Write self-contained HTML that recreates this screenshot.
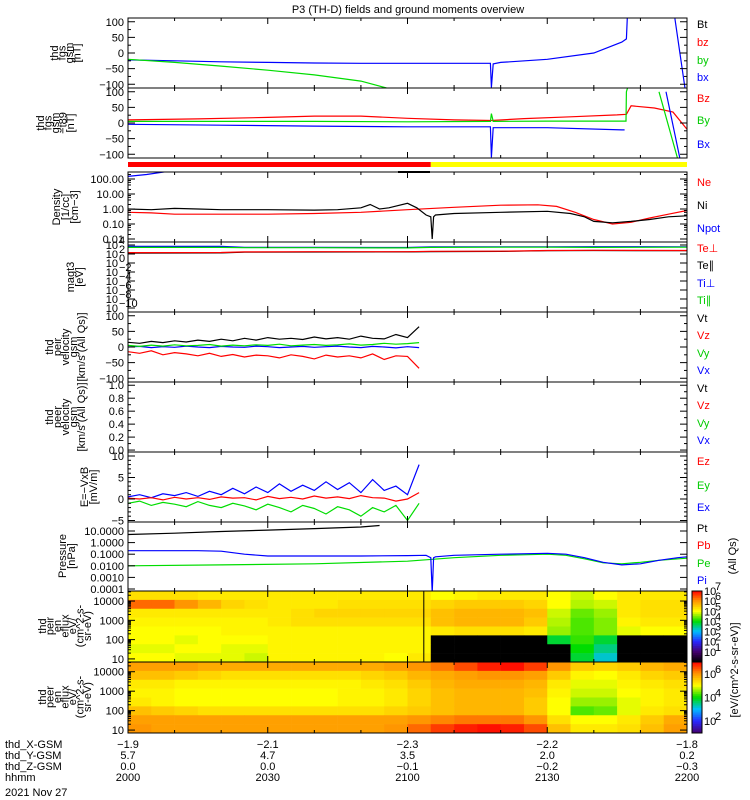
<!DOCTYPE html>
<html><head><meta charset="utf-8">
<style>
html,body{margin:0;padding:0;background:#fff;}
svg{display:block;font-family:"Liberation Sans",sans-serif;}
text{font-size:11px;}
</style></head>
<body>
<svg id="chart" width="750" height="800" viewBox="0 0 750 800" xmlns="http://www.w3.org/2000/svg">
<rect x="0" y="0" width="750" height="800" fill="#fff"/>
<text x="408" y="13" text-anchor="middle" font-size="12">P3 (TH-D) fields and ground moments overview</text>
<g id="layer"></g>
</svg>
<script>
// ---- data (time in minutes after 20:00) ----
const xTickLabels = ["2000","2030","2100","2130","2200"];
const xTickTimes = [0,30,60,90,120];
const xGsm = ["-1.9","-2.1","-2.3","-2.2","-1.8"];
const yGsm = ["5.7","4.7","3.5","2.0","0.2"];
const zGsm = ["0.0","0.0","-0.1","-0.2","-0.3"];

const bxT=[0,10,20,30,40,50,60,70,77.8,78,78.4,80,90,100,106,107,107.2,null,117.4,119.6];
const bxV=[-22,-25,-28,-30,-32,-33,-33,-33,-33,-110,-35,-30,-20,0,35,45,120,null,110,-115];
const byT=[0,10,20,30,40,50,55.5];
const byV=[-20,-30,-42,-55,-70,-90,-112];

const bz2T=[0,15,30,40,50,60,70,78,85,95,105,107,108,113,117,120];
const bz2V=[10,13,18,22,22,15,10,8,14,20,26,28,55,48,35,-20];
const by2T=[0,20,40,60,77.8,78,78.4,90,106.9,107,107.3,null,114,118];
const by2V=[5,5,5,4,5,30,5,6,6,100,115,null,100,-115];
const bx2T=[0,20,40,60,77.8,78,78.4,90,106,106.6,null,115.5,118.5];
const bx2V=[-4,-7,-10,-12,-12,-110,-15,-15,-22,-22,null,100,-115];

const niT=[0,5,10,15,20,30,40,45,50,52,54,56,60,62,64,65,65.3,65.6,66,70,80,90,95,98,100,104,108,112,116,120];
const niV=[1.0,0.9,1.1,1.0,0.9,0.9,0.85,0.9,1.2,2.0,1.0,1.2,2.4,1.2,0.4,0.3,0.01,0.3,0.4,0.5,0.6,0.7,0.5,0.3,0.15,0.12,0.15,0.2,0.3,0.35];
const neT=[0,5,10,20,30,40,50,60,70,80,88,92,96,100,104,108,112,116,120];
const neV=[0.6,0.55,0.45,0.45,0.45,0.5,0.6,0.9,1.3,1.8,1.9,1.5,0.6,0.2,0.1,0.13,0.25,0.45,0.8];
const npT=[0,4,8];
const npV=[150,200,300];

const tmT=[0,20,25,40,60,65,80,90,100,120];
const tePerp=[200,220,300,320,330,400,420,600,650,600];
const tePar=[160,180,250,280,300,350,380,550,600,550];
const tiPerp=[5000,5000,3000,3000,2800,4000,4000,4000,4200,4000];
const tiPar=[3000,3000,2500,2500,2300,3000,3200,3300,3000,3200];

const vT=[0,2.5,5,7.5,10,12.5,15,17.5,20,22.5,25,27.5,30,32.5,35,37.5,40,42.5,45,47.5,50,52.5,55,57.5,60,62.5];
const vtV=[15,12,18,14,20,16,22,18,25,20,28,22,30,25,28,24,32,26,30,25,35,28,26,40,30,65];
const vzV=[-15,-20,-12,-25,-18,-22,-28,-20,-30,-24,-32,-26,-28,-35,-25,-30,-38,-26,-32,-28,-35,-22,-40,-28,-30,-68];
const vyV=[5,2,6,3,7,4,5,8,3,6,4,7,5,9,4,6,8,5,7,10,6,8,12,9,11,14];
const vxV=[0,2,-2,1,-1,3,0,-2,2,0,-1,3,1,-2,0,2,-1,1,3,0,-2,2,0,-3,1,-2];

const exV=[0.5,1,0.3,1.2,0.8,1.5,0.6,1.8,1,2.5,1.2,2.8,1.5,3.5,1.8,3.2,2,4,2.2,3.8,1.5,4.5,2,3,1,8];
const eyV=[-1,-0.5,-1.5,-0.8,-1.2,-1.8,-0.6,-1.5,-2,-1,-1.6,-2.5,-1.2,-2,-3,-1.5,-2.2,-3.5,-1.8,-2.5,-4,-2,-3,-1.5,-5,-1];
const ezV=[0.2,0,0.3,-0.2,0.4,0,0.3,-0.1,0.5,0.2,0.3,-0.2,0.6,0.1,0.4,0,0.7,0.2,0.5,0.1,0.8,0.3,0.2,-0.5,0,1.5];

const ptT=[0,10,20,30,40,50,54];
const ptV=[5,6.5,9,12,16,22,30];
const piT=[0,15,20,25,30,40,50,60,64,65,65.3,65.6,66,70,80,90,94,98,102,106,110,114,118,120];
const piV=[0.2,0.2,0.18,0.1,0.07,0.07,0.07,0.075,0.08,0.05,0.00005,0.05,0.06,0.08,0.1,0.12,0.1,0.05,0.02,0.012,0.015,0.03,0.05,0.06];
const peT=[0,20,40,60,70,80,90,94,98,102,106,110,114,120];
const peV=[0.01,0.012,0.015,0.025,0.05,0.08,0.1,0.08,0.04,0.018,0.015,0.02,0.03,0.045];

const modeSwitchTime = 65;

// spectrogram log-flux grids: rows = energy bins (high -> low), cols = 5-min time bins
const spec1 = [
[5.3,5.3,5.3,5.2,5.2,5.2,5.2,5.2,5.2,5.2,5.2,5.2,5.2,5.0,5.1,5.2,5.2,5.2,5.0,4.8,5.0,5.2,5.2,5.2],
[6.3,6.3,6.0,5.7,5.4,5.3,5.2,5.2,5.2,5.3,5.3,5.3,5.3,5.4,5.5,5.5,5.5,5.4,5.0,4.7,4.8,5.2,5.3,5.3],
[5.2,5.2,5.2,5.2,5.2,5.2,5.2,5.3,5.4,5.4,5.4,5.4,5.4,5.6,5.7,5.7,5.7,5.6,4.8,4.4,4.6,5.2,5.3,5.3],
[5.1,5.1,5.1,5.1,5.1,5.1,5.2,5.3,5.3,5.3,5.3,5.3,5.3,5.6,5.7,5.7,5.7,5.5,4.7,4.3,4.5,5.1,5.2,5.2],
[5.0,5.0,5.0,5.0,5.1,5.1,5.1,5.1,5.1,5.1,5.1,5.1,5.1,5.2,5.3,5.3,5.3,5.2,4.6,4.3,4.5,4.9,5.0,5.0],
[5.0,5.0,4.9,5.0,5.0,5.0,5.1,5.1,5.1,5.1,5.1,5.1,5.1,0,0,0,0,0,3.8,4.2,3.8,0,0,0],
[4.9,4.9,5.0,5.0,4.9,4.9,5.1,5.1,5.1,5.1,5.1,5.1,5.1,0,0,0,0,0,0,4.0,3.5,0,0,0],
[5.0,5.0,4.9,4.9,4.9,4.8,5.1,5.1,5.1,5.1,5.1,5.0,5.2,0,0,0,0,0,0,3.8,3.2,0,0,0]];
const spec2 = [
[5.9,5.9,5.9,5.8,5.8,5.8,5.8,5.8,5.8,5.8,5.8,5.9,6.0,6.2,6.5,6.8,6.9,6.6,6.0,5.5,5.4,5.5,5.7,5.8],
[5.6,5.6,5.5,5.4,5.3,5.3,5.3,5.3,5.3,5.3,5.4,5.5,5.7,5.8,5.9,6.0,6.0,5.9,5.5,5.1,5.0,5.2,5.4,5.5],
[5.2,5.2,5.1,5.1,5.1,5.1,5.1,5.1,5.1,5.1,5.2,5.3,5.5,5.7,5.8,5.8,5.8,5.7,5.2,4.9,4.9,5.1,5.2,5.3],
[5.1,5.1,5.0,5.0,5.0,5.0,5.0,5.0,5.0,5.1,5.1,5.2,5.4,5.6,5.7,5.7,5.7,5.6,5.1,4.8,4.8,5.0,5.1,5.2],
[5.2,5.1,5.0,5.0,5.0,5.0,5.0,5.0,5.0,5.1,5.1,5.2,5.4,5.6,5.7,5.7,5.7,5.5,5.0,4.6,4.6,4.9,5.1,5.2],
[5.6,5.5,5.4,5.3,5.3,5.3,5.3,5.3,5.3,5.3,5.3,5.4,5.5,5.6,5.7,5.7,5.7,5.5,5.0,4.3,4.4,4.9,5.2,5.3],
[5.9,5.9,5.9,5.9,5.9,5.9,5.9,5.9,5.9,5.9,5.9,5.9,6.0,6.1,6.2,6.2,6.2,6.0,5.3,5.0,5.0,5.2,5.5,5.8],
[6.0,5.9,5.9,5.9,5.9,5.9,5.9,5.9,5.9,5.9,5.9,6.0,6.3,6.6,6.8,6.9,6.8,6.5,5.6,5.2,5.2,5.3,5.6,5.9]];

// ---- layout ----
const NS="http://www.w3.org/2000/svg";
const L=document.getElementById('layer');
const X0=128, X1=687, TMAX=120;
const xs=t=>X0+(t/TMAX)*(X1-X0);
function el(tag,attrs,parent){const e=document.createElementNS(NS,tag);for(const k in attrs)e.setAttribute(k,attrs[k]);(parent||L).appendChild(e);return e;}
function linScale(d0,d1,y0,y1){return v=>y0+(v-d0)/(d1-d0)*(y1-y0);}
function logScale(v0,yv0,pxDec){return v=>yv0-(Math.log10(v)-Math.log10(v0))*pxDec;}

function clipFor(name,y0,y1){
  const c=el('clipPath',{id:'c-'+name});
  el('rect',{x:X0,y:y0,width:X1-X0,height:y1-y0},c);
  return 'url(#c-'+name+')';
}
function series(name,ts,vs,ys,color,clip){
  let d='',pen=false;
  for(let i=0;i<ts.length;i++){
    if(ts[i]===null||vs[i]===null){pen=false;continue;}
    d+=(pen?'L':'M')+xs(ts[i]).toFixed(1)+','+ys(vs[i]).toFixed(1);pen=true;
  }
  const p=el('path',{d:d,fill:'none',stroke:color,'stroke-width':1.2,'clip-path':clip});
  
  
}
function frame(name,y0,y1){
  const r=el('rect',{x:X0,y:y0,width:X1-X0,height:y1-y0,fill:'none',stroke:'#000','stroke-width':1});
  
  
  for(let t=0;t<=TMAX;t+=10){
    const len=(t%30===0)?6:3;
    el('line',{x1:xs(t),x2:xs(t),y1:y0,y2:y0+len,stroke:'#000'});
    el('line',{x1:xs(t),x2:xs(t),y1:y1,y2:y1-len,stroke:'#000'});
  }
}
function ytick(y,label,major){
  const len=major?7:3;
  el('line',{x1:X0,x2:X0+len,y1:y,y2:y,stroke:'#000'});
  el('line',{x1:X1,x2:X1-len,y1:y,y2:y,stroke:'#000'});
  if(label!==null&&label!==undefined){
    const t=el('text',{x:124,y:y+4,'text-anchor':'end','font-size':12});
    t.textContent=label;
    
    
  }
}
function ytickPow(y,exp){
  el('line',{x1:X0,x2:X0+7,y1:y,y2:y,stroke:'#000'});
  el('line',{x1:X1,x2:X1-7,y1:y,y2:y,stroke:'#000'});
  const t=el('text',{x:118,y:y+4,'text-anchor':'end','font-size':11});
  t.textContent='10';
  
  
  const s=el('text',{x:119,y:y-1,'font-size':8});
  s.textContent=exp;
}
function vtitle(name,lines,x,yc,step,size){
  const g=el('g',{});
  
  
  lines.forEach((ln,i)=>{
    const t=el('text',{x:0,y:0,'text-anchor':'middle','font-size':size||12,transform:`translate(${x+i*step},${yc}) rotate(-90)`},g);
    t.textContent=ln;
  });
}
function legend(name,label,y,color){
  const t=el('text',{x:697,y:y+4,fill:color,'font-size':11});
  t.textContent=label;
  
  
}

// Panel 1: FGS GSM
{const y0=18,y1=88,ys=linScale(112,-112,y0,y1),c=clipFor('p1',y0,y1);
 series('bx-line',bxT,bxV,ys,'#0000ff',c);series('by-line',byT,byV,ys,'#00dd00',c);
 frame('fgs-gsm-panel',y0,y1);
 [100,50,0,-50,-100].forEach(v=>ytick(ys(v),String(v).replace('-','−'),true));
 [75,25,-25,-75].forEach(v=>ytick(ys(v),null,false));
 vtitle('fgs-gsm-axis-title',['thd','fgs','gsm','[nT]'],58,53,7.5,11);
 legend('legend-bt','Bt',24,'#000');legend('legend-bz','bz',42,'#ff0000');legend('legend-by','by',60,'#00cc00');legend('legend-bx','bx',77,'#0000ff');}

// Panel 2: FGS GSM-T89
{const y0=88,y1=158,ys=linScale(112,-112,y0,y1),c=clipFor('p2',y0,y1);
 series('bz-t89-line',bz2T,bz2V,ys,'#ff0000',c);series('by-t89-line',by2T,by2V,ys,'#00dd00',c);series('bx-t89-line',bx2T,bx2V,ys,'#0000ff',c);
 frame('fgs-t89-panel',y0,y1);
 [100,50,0,-50,-100].forEach(v=>ytick(ys(v),String(v).replace('-','−'),true));
 [75,25,-25,-75].forEach(v=>ytick(ys(v),null,false));
 vtitle('fgs-t89-axis-title',['thd','fgs','gsm','−t89','[nT]'],44,123,7.5,11);
 legend('legend-bz-t89','Bz',98,'#ff0000');legend('legend-by-t89','By',120,'#00cc00');legend('legend-bx-t89','Bx',144,'#0000ff');}

// mode bar
{el('line',{x1:X0,x2:X1,y1:158,y2:158,stroke:'#000'});
 const r=el('rect',{x:X0,y:162,width:xs(modeSwitchTime)-X0,height:5,fill:'#ff0000'});
 
 
 const r2=el('rect',{x:xs(modeSwitchTime),y:162,width:X1-xs(modeSwitchTime),height:5,fill:'#ffff00'});
 
 
 el('rect',{x:398,y:171,width:32,height:2,fill:'#000'});}

// Panel 3: Density
{const y0=172,y1=242,ys=logScale(100,179,15),c=clipFor('p3',y0,y1);
 series('npot-line',npT,npV,ys,'#0000ff',c);series('ne-line',neT,neV,ys,'#ff0000',c);series('ni-line',niT,niV,ys,'#000',c);
 frame('density-panel',y0,y1);
 [['100.00',100],['10.00',10],['1.00',1],['0.10',0.1],['0.01',0.01]].forEach(a=>ytick(ys(a[1]),a[0],true));
 for(let d=-2;d<3;d++)for(let m=2;m<10;m+=2){const y=ys(m*Math.pow(10,d));if(y>y0&&y<y1)ytick(y,null,false);}
 vtitle('density-axis-title',['Density','[1/cc]','[cm−3]'],60,207,9,11);
 legend('legend-ne','Ne',182,'#ff0000');legend('legend-ni','Ni',205,'#000');legend('legend-npot','Npot',228,'#0000ff');}

// Panel 4: Temperature
{const y0=242,y1=312,ys=logScale(1,263,4.5),c=clipFor('p4',y0,y1);
 series('ti-perp-line',tmT,tiPerp,ys,'#0000ff',c);series('ti-par-line',tmT,tiPar,ys,'#00dd00',c);
 series('te-par-line',tmT,tePar,ys,'#000',c);series('te-perp-line',tmT,tePerp,ys,'#ff0000',c);
 frame('temperature-panel',y0,y1);
 [4,2,0,-2,-4,-6,-8,-10].forEach(e=>ytickPow(ys(Math.pow(10,e)),String(e).replace('-','−')));
 vtitle('temperature-axis-title',['magt3','[eV]'],74,277,9,11);
 legend('legend-te-perp','Te⊥',248,'#ff0000');legend('legend-te-par','Te∥',265,'#000');legend('legend-ti-perp','Ti⊥',283,'#0000ff');legend('legend-ti-par','Ti∥',300,'#00cc00');}

// Panel 5: ion velocity
{const y0=312,y1=382,ys=linScale(112,-112,y0,y1),c=clipFor('p5',y0,y1);
 series('vx-ion-line',vT,vxV,ys,'#0000ff',c);series('vy-ion-line',vT,vyV,ys,'#00dd00',c);series('vz-ion-line',vT,vzV,ys,'#ff0000',c);series('vt-ion-line',vT,vtV,ys,'#000',c);
 frame('ion-velocity-panel',y0,y1);
 [100,50,0,-50,-100].forEach(v=>ytick(ys(v),String(v).replace('-','−'),true));
 [75,25,-25,-75].forEach(v=>ytick(ys(v),null,false));
 vtitle('ion-velocity-axis-title',['thd','peir','velocity','gsm','[km/s (All Qs)]'],53,347,8,11);
 legend('legend-vt-ion','Vt',318,'#000');legend('legend-vz-ion','Vz',335,'#ff0000');legend('legend-vy-ion','Vy',353,'#00cc00');legend('legend-vx-ion','Vx',370,'#0000ff');}

// Panel 6: electron velocity (empty)
{const y0=382,y1=452,ys=linScale(1.05,-0.03,y0,y1);
 frame('electron-velocity-panel',y0,y1);
 [0,0.2,0.4,0.6,0.8,1.0].forEach(v=>ytick(ys(v),v.toFixed(1),true));
 [0.1,0.3,0.5,0.7,0.9].forEach(v=>ytick(ys(v),null,false));
 vtitle('electron-velocity-axis-title',['thd','peer','velocity','gsm','[km/s (All Qs)]'],53,417,8,11);
 legend('legend-vt-el','Vt',388,'#000');legend('legend-vz-el','Vz',405,'#ff0000');legend('legend-vy-el','Vy',423,'#00cc00');legend('legend-vx-el','Vx',440,'#0000ff');}

// Panel 7: E = -VxB
{const y0=452,y1=522,ys=linScale(10,0,456,499),c=clipFor('p7',y0,y1);
 series('ey-line',vT,eyV,ys,'#00dd00',c);series('ex-line',vT,exV,ys,'#0000ff',c);series('ez-line',vT,ezV,ys,'#ff0000',c);
 frame('efield-panel',y0,y1);
 [10,5,0,-5].forEach(v=>ytick(ys(v),String(v).replace('-','−'),true));
 [9,8,7,6,4,3,2,1,-1,-2,-3,-4].forEach(v=>ytick(ys(v),null,false));
 vtitle('efield-axis-title',['E=−VxB','[mV/m]'],88,487,9,11);
 legend('legend-ez','Ez',461,'#ff0000');legend('legend-ey','Ey',485,'#00cc00');legend('legend-ex','Ex',507,'#0000ff');}

// Panel 8: Pressure
{const y0=522,y1=591,ys=logScale(10,531,11.6),c=clipFor('p8',y0,y1);
 series('pe-line',peT,peV,ys,'#00dd00',c);series('pi-line',piT,piV,ys,'#0000ff',c);series('pt-line',ptT,ptV,ys,'#000',c);
 frame('pressure-panel',y0,y1);
 [['10.0000',10],['1.0000',1],['0.1000',0.1],['0.0100',0.01],['0.0010',0.001],['0.0001',0.0001]].forEach(a=>ytick(ys(a[1]),a[0],true));
 vtitle('pressure-axis-title',['Pressure','[nPa]'],66,556,9,11);
 legend('legend-pt','Pt',528,'#000');legend('legend-pb','Pb',545,'#ff0000');legend('legend-pe','Pe',563,'#00cc00');legend('legend-pi','Pi',580,'#0000ff');
 const t=el('text',{x:0,y:0,'font-size':11,'text-anchor':'middle',transform:'translate(736,556) rotate(-90)'});t.textContent='(All Qs)';}

// colormap
const cstops=[[0,[0,0,0]],[1,[70,0,110]],[2,[40,40,255]],[3,[0,190,255]],[4,[0,220,0]],[5,[255,255,0]],[6,[255,150,0]],[7,[255,0,0]]];
function cmap(v){
  if(v<=0)return 'rgb(0,0,0)';
  if(v>=7)return 'rgb(255,0,0)';
  for(let i=0;i<cstops.length-1;i++){const a=cstops[i],b=cstops[i+1];
    if(v>=a[0]&&v<=b[0]){const f=(v-a[0])/(b[0]-a[0]);const c=a[1].map((x,k)=>Math.round(x+(b[1][k]-x)*f));return `rgb(${c})`;}}
}
function spectro(name,grid,y0,y1,eTop,eBot){
  const nE=grid.length,nT=grid[0].length;
  const ys=v=>y0+(eTop-v)/(eTop-eBot)*(y1-y0); // v = log10 energy
  const eStep=(eTop-eBot)/nE, tStep=TMAX/nT;
  for(let r=0;r<nE;r++)for(let k=0;k<nT;k++){
    const xa=xs(k*tStep),xb=xs((k+1)*tStep);
    const ya=ys(eTop-r*eStep),yb=ys(eTop-(r+1)*eStep);
    const cell=el('rect',{x:xa.toFixed(2),y:ya.toFixed(2),width:(xb-xa+0.3).toFixed(2),height:(yb-ya+0.3).toFixed(2),fill:cmap(grid[r][k])});
    
    
  }
  frame(name,y0,y1);
  [[10000,'10000'],[1000,'1000'],[100,'100'],[10,'10']].forEach(a=>ytick(ys(Math.log10(a[0])),a[1],true));
  for(let d=1;d<5;d++)for(let m=2;m<10;m++){const lv=d+Math.log10(m);if(lv<eTop&&lv>eBot)ytick(ys(lv),null,false);}
}
spectro('ion-energy-spectrogram',spec1,591,662,4.52,0.84);
el('line',{x1:xs(63.5),x2:xs(63.5),y1:591,y2:662,stroke:'#000'});
spectro('electron-energy-spectrogram',spec2,662,733,4.5,0.85);
vtitle('ion-spec-axis-title',['thd','peir','en','eflux','eV/','(cm^2-s-','sr-eV)'],46,626,7.5,11);
vtitle('electron-spec-axis-title',['thd','peer','en','eflux','eV/','(cm^2-s-','sr-eV)'],46,697,7.5,11);

// colorbars
function colorbar(name,y0,y1,vmin,vmax,labels){
  const g=el('g',{});
  
  
  const n=40;
  for(let i=0;i<n;i++){const v=vmax-(i+0.5)/n*(vmax-vmin);
    el('rect',{x:692,y:y0+i*(y1-y0)/n,width:10,height:(y1-y0)/n+0.5,fill:cmap(v)},g);}
  el('rect',{x:692,y:y0,width:10,height:y1-y0,fill:'none',stroke:'#000'},g);
  labels.forEach(e=>{const y=y0+(vmax-e)/(vmax-vmin)*(y1-y0);
    const t=el('text',{x:704,y:y+4,'font-size':10},g);t.textContent='10';
    const s=el('text',{x:715,y:y-1,'font-size':7},g);s.textContent=String(e);});
}
colorbar('ion-colorbar',591,662,0,7,[7,6,5,4,3,2,1]);
colorbar('electron-colorbar',662,733,1,7,[6,4,2]);
{const t=el('text',{x:0,y:0,'font-size':12,'text-anchor':'middle',transform:'translate(738,670) rotate(-90)'});
 t.textContent='[eV/(cm^2-s-sr-eV)]';
 
 }

// bottom axis labels
{const rows=[['thd_X-GSM',xGsm],['thd_Y-GSM',yGsm],['thd_Z-GSM',zGsm],['hhmm',xTickLabels]];
 rows.forEach((r,i)=>{const y=748+i*11;
   const t=el('text',{x:5,y:y,'font-size':11});t.textContent=r[0];
   
   
   r[1].forEach((v,k)=>{const tt=el('text',{x:xs(xTickTimes[k]),y:y,'font-size':11,'text-anchor':'middle'});tt.textContent=v.replace('-','−');
     
     });
 });
 const d=el('text',{x:5,y:796,'font-size':11});d.textContent='2021 Nov 27';
 
 }
</script>
</body></html>
